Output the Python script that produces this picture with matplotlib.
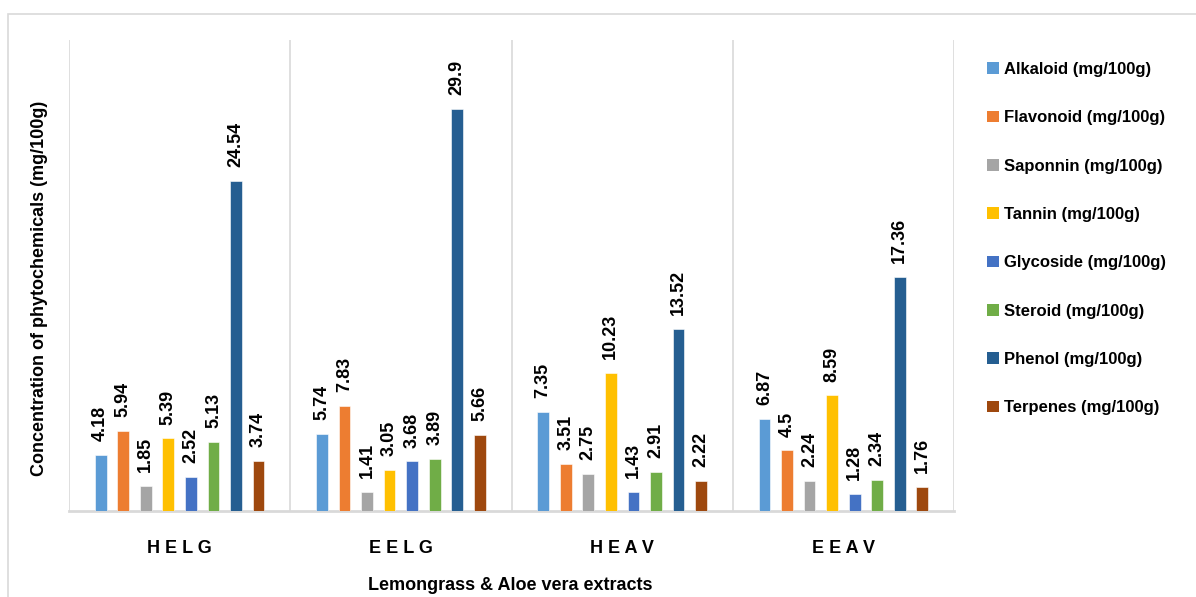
import matplotlib.pyplot as plt
import numpy as np
from matplotlib.patches import Patch, Rectangle

plt.rcParams['font.family'] = ['Liberation Sans', 'DejaVu Sans']

# data
groups = ['H E L G', 'E E L G', 'H E A V', 'E E A V']
series = ['Alkaloid (mg/100g)', 'Flavonoid (mg/100g)', 'Saponnin (mg/100g)',
          'Tannin (mg/100g)', 'Glycoside (mg/100g)', 'Steroid (mg/100g)',
          'Phenol (mg/100g)', 'Terpenes (mg/100g)']
alkaloid = [4.18, 5.74, 7.35, 6.87]
flavonoid = [5.94, 7.83, 3.51, 4.5]
saponnin = [1.85, 1.41, 2.75, 2.24]
tannin = [5.39, 3.05, 10.23, 8.59]
glycoside = [2.52, 3.68, 1.43, 1.28]
steroid = [5.13, 3.89, 2.91, 2.34]
phenol = [24.54, 29.9, 13.52, 17.36]
terpenes = [3.74, 5.66, 2.22, 1.76]
values = [alkaloid, flavonoid, saponnin, tannin, glycoside, steroid, phenol, terpenes]
colors = ['#5B9BD5', '#ED7D31', '#A5A5A5', '#FFC000', '#4472C4', '#70AD47',
          '#255E91', '#9E480E']

fig = plt.figure(figsize=(11.96, 5.97), dpi=100)
ax = fig.add_axes([69 / 1196, 1 - 511 / 597, (954 - 69) / 1196, (511 - 40) / 597])

# outer chart border
fig.patches.append(Rectangle((8 / 1196, -0.1), 1.1, (597 - 14) / 597 + 0.1,
                             transform=fig.transFigure, fill=False,
                             edgecolor='#D9D9D9', linewidth=1.2))

x = np.arange(len(groups))
step = 0.102
width = 0.053
for i, (name, vals, c) in enumerate(zip(series, values, colors)):
    pos = x + (i - 3.5) * step
    ax.bar(pos, vals, width=width, color=c, label=name, edgecolor='white',
           linewidth=0.4, zorder=3)
    for px, v in zip(pos, vals):
        ax.annotate(f'{v:g}', (px, v), xytext=(0, 10), textcoords='offset points',
                    rotation=90, ha='center', va='bottom', fontsize=13,
                    fontweight='bold')

ax.set_xlim(-0.5, 3.5)
ax.set_ylim(0, 35)
ax.set_yticks([])
ax.set_xticks(x)
ax.set_xticklabels(groups, fontsize=13, fontweight='bold')
ax.tick_params(axis='x', length=0, pad=21)
for b in [-0.5, 0.5, 1.5, 2.5, 3.5]:
    ax.axvline(b, color='#D9D9D9', linewidth=1.2, zorder=1)
for s in ['top', 'right', 'left']:
    ax.spines[s].set_visible(False)
ax.spines['bottom'].set_color('#D9D9D9')
ax.spines['bottom'].set_linewidth(2)

fig.text(40 / 1196, 1 - 288 / 597, 'Concentration of phytochemicals (mg/100g)',
         rotation=90, ha='center', va='center', fontsize=13, fontweight='bold')
fig.text(510 / 1196, 1 - 585 / 597, 'Lemongrass & Aloe vera extracts',
         ha='center', va='center', fontsize=13, fontweight='bold')

handles = [Patch(facecolor=c, label=n) for n, c in zip(series, colors)]
fig.legend(handles=handles, loc='upper left', bbox_to_anchor=(972 / 1196, 1 - 47 / 597),
           frameon=False, handlelength=0.7, handleheight=0.7, handletextpad=0.35,
           labelspacing=2.0, prop={'weight': 'bold', 'size': 12})

plt.savefig('out.png', dpi=100)
